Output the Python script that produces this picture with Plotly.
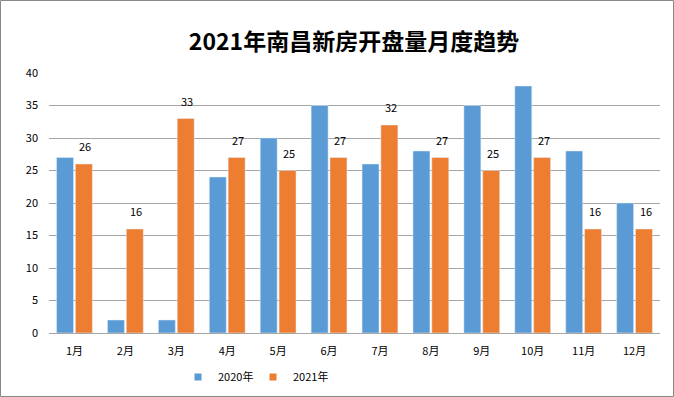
import plotly.graph_objects as go

months = ["1月", "2月", "3月", "4月", "5月", "6月", "7月", "8月", "9月", "10月", "11月", "12月"]
v2020 = [27, 2, 2, 24, 30, 35, 26, 28, 35, 38, 28, 20]
v2021 = [26, 16, 33, 27, 25, 27, 32, 27, 25, 27, 16, 16]
series = ["2020年", "2021年"]
colors = ["#5B9BD5", "#ED7D31"]

W, H = 674, 397
font = "Noto Sans CJK SC"
fig = go.Figure()
for name, vals, col in zip(series, [v2020, v2021], colors):
    fig.add_trace(go.Bar(x=months, y=vals, name=name, marker_color=col, showlegend=False))
# legend-only entries with small square keys
for name, col in zip(series, colors):
    fig.add_trace(go.Scatter(x=[None], y=[None], mode="markers", name=name,
                             marker=dict(symbol="square", size=7, color=col)))

annotations = [dict(x=m, y=v, xref="x", yref="y", text=str(v), showarrow=False,
                    xshift=11, yshift=8, yanchor="bottom",
                    font=dict(size=11, color="#000000"))
               for m, v in zip(months, v2021)]

fig.update_layout(
    width=W, height=H,
    paper_bgcolor="white", plot_bgcolor="white",
    margin=dict(l=0, r=0, t=0, b=0, autoexpand=False),
    title=dict(text="<b>2021年南昌新房开盘量月度趋势</b>", x=354 / W, xanchor="center",
               y=1 - 42 / H, yanchor="middle", font=dict(family=font, size=23, color="#000000")),
    font=dict(family=font, size=11, color="#000000"),
    barmode="group", bargap=0.26, bargroupgap=0.1,
    legend=dict(orientation="h", x=178 / W, xanchor="left", y=1 - 377 / H, yanchor="middle",
                font=dict(size=11), itemwidth=30, entrywidth=30),
    xaxis=dict(domain=[49 / W, 660 / W], showline=True, linecolor="#A6A6A6", ticks="",
               tickfont=dict(size=11), ticklabelstandoff=8, automargin=False),
    yaxis=dict(domain=[1 - 333 / H, 1 - 73 / H], range=[0, 40], dtick=5, gridcolor="#A6A6A6",
               zeroline=False, ticks="", tickfont=dict(size=11), ticklabelstandoff=10,
               automargin=False),
    annotations=annotations,
    shapes=[dict(type="rect", xref="paper", yref="paper", x0=0.5 / W, x1=1 - 0.5 / W,
                 y0=0.5 / H, y1=1 - 0.5 / H, line=dict(color="#888888", width=1))],
)
fig.write_html("out.html", config={"displayModeBar": False},
               post_script="document.body.style.margin='0';document.body.style.overflow='hidden';")
